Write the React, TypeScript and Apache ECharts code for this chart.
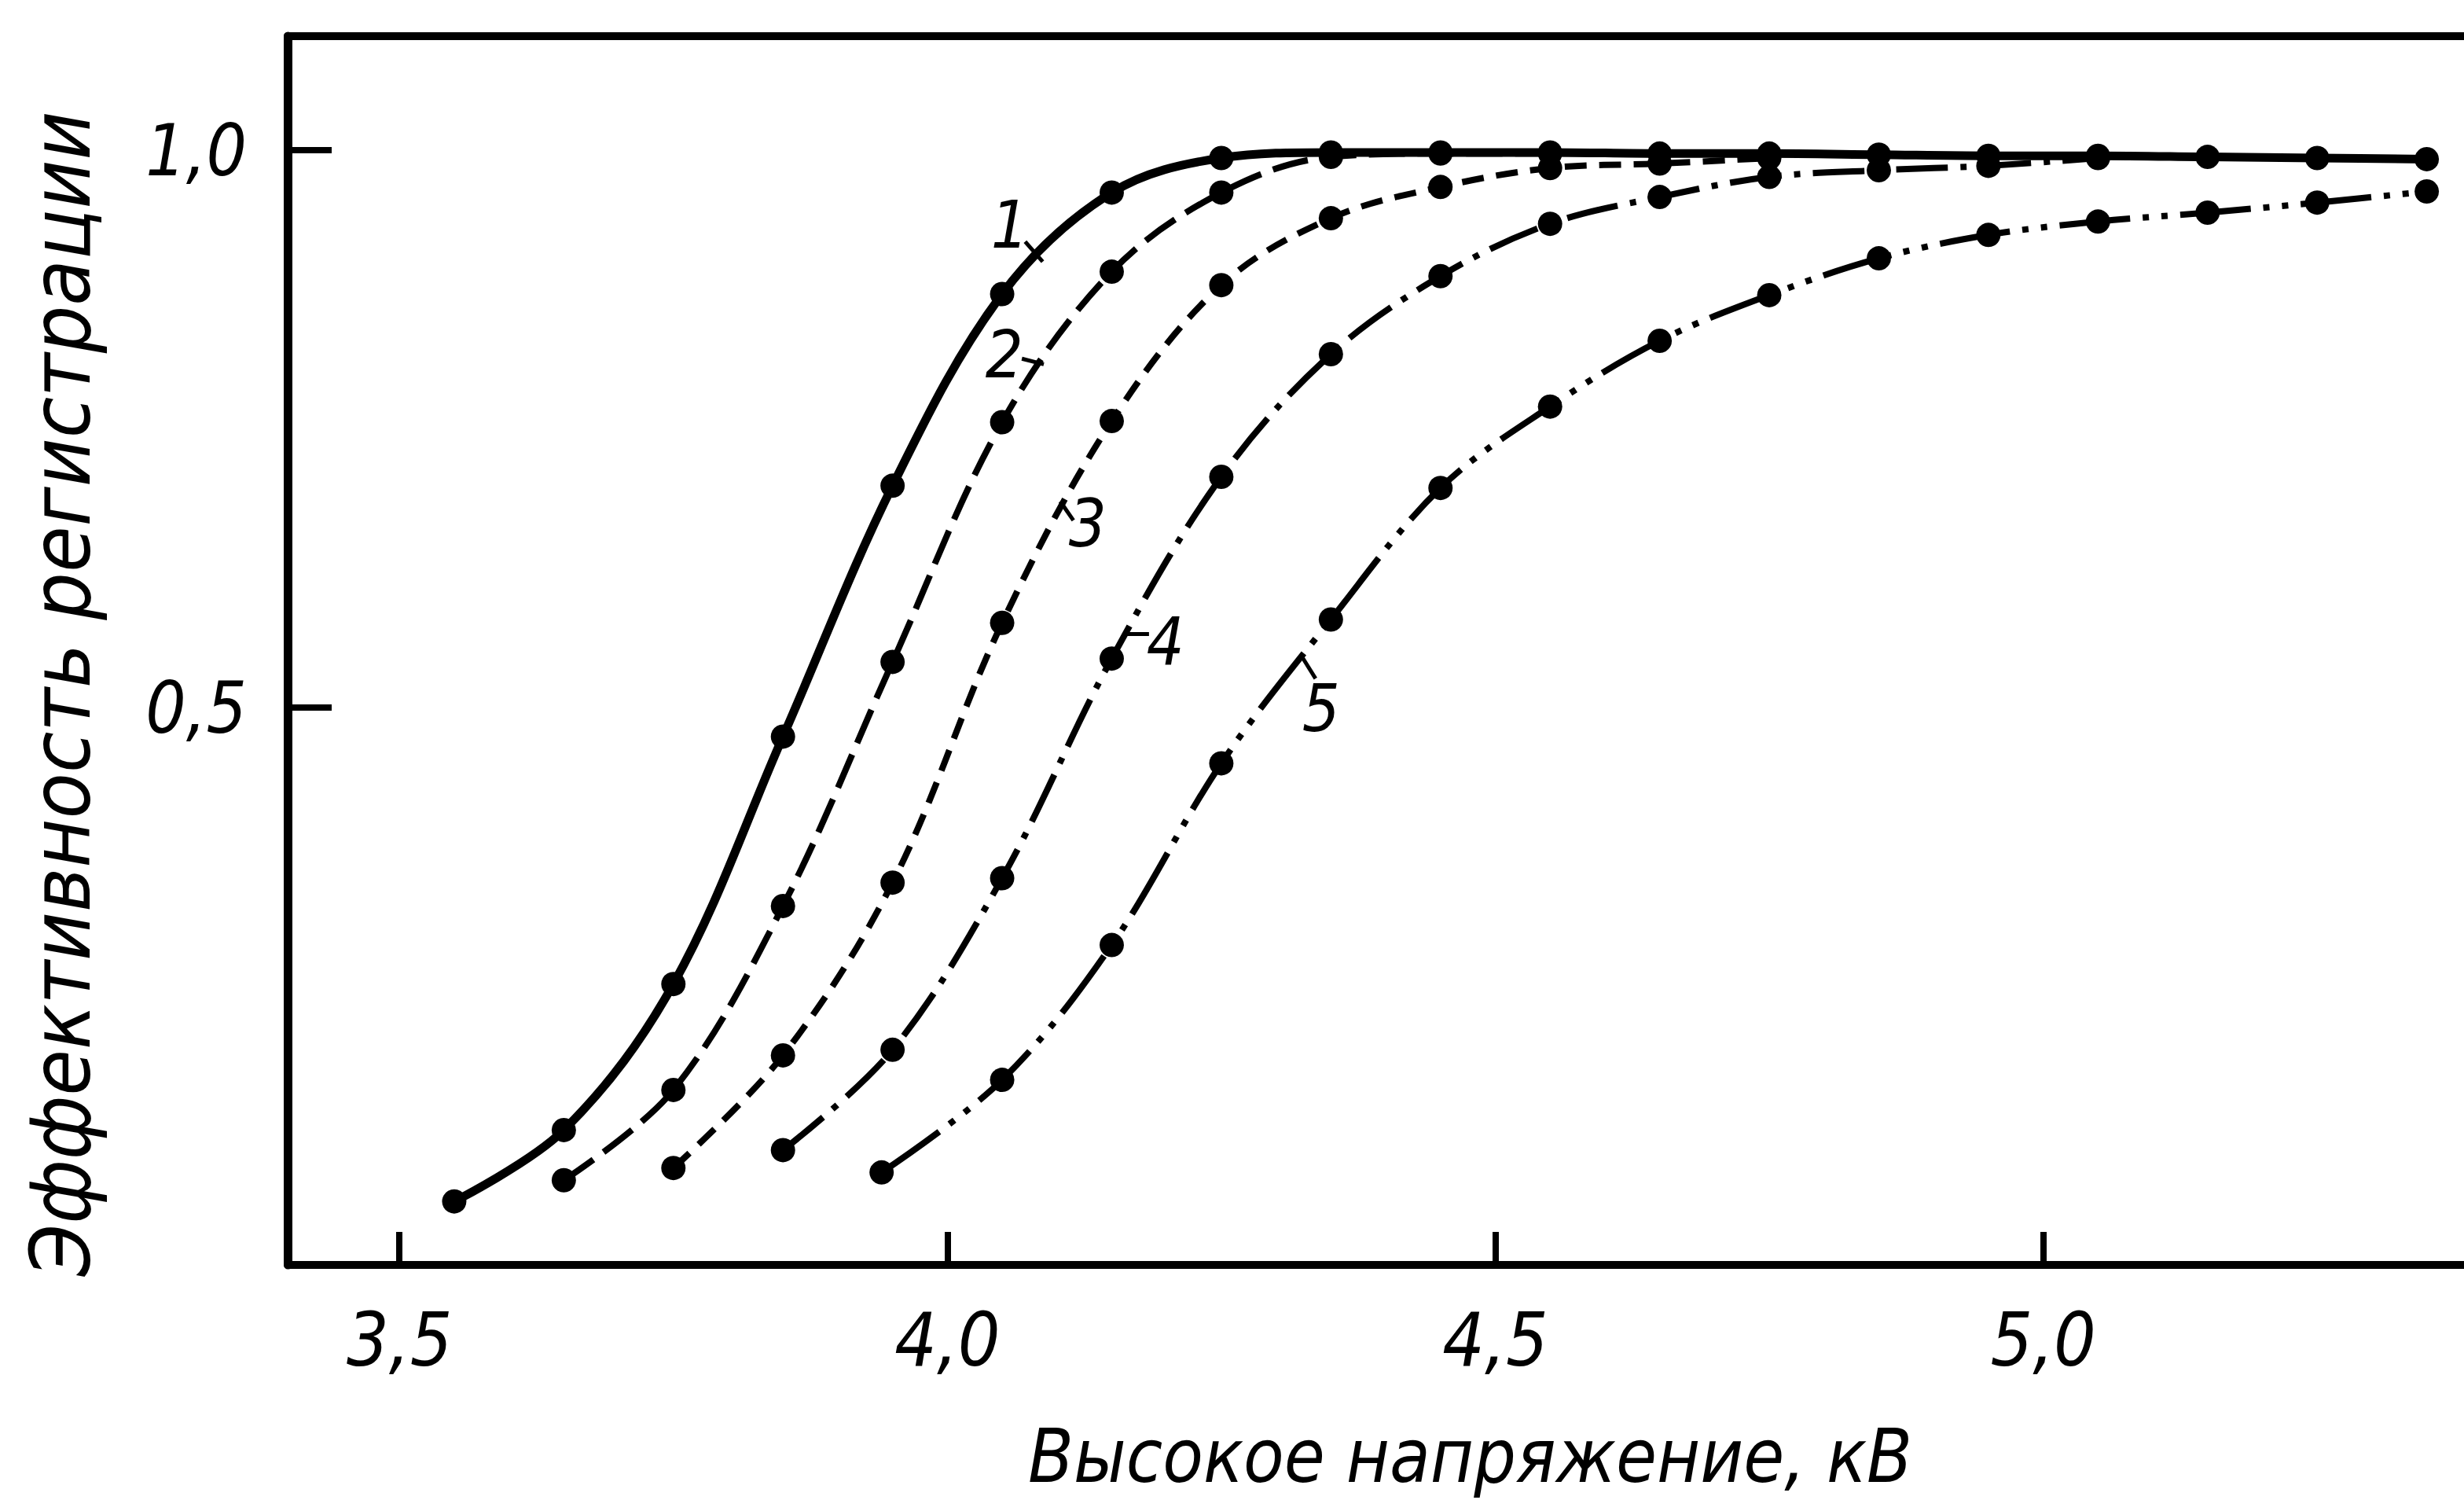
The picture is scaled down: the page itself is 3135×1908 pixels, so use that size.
import { useEffect, useRef } from "react";
import * as echarts from "echarts";

// ---- tick values ----
const xTickValues = [3.5, 4.0, 4.5, 5.0];
const yTickValues = [0.5, 1.0];

// ---- curve data (voltage, kV -> registration efficiency) ----
const voltage1 = [3.55, 3.65, 3.75, 3.85, 3.95, 4.05, 4.15, 4.25, 4.35, 4.45, 4.55, 4.65, 4.75, 4.85, 4.95, 5.05, 5.15, 5.25, 5.35];
const efficiency1 = [0.057, 0.121, 0.252, 0.474, 0.699, 0.871, 0.962, 0.993, 0.998, 0.998, 0.998, 0.997, 0.997, 0.996, 0.995, 0.995, 0.994, 0.993, 0.992];

const voltage2 = [3.65, 3.75, 3.85, 3.95, 4.05, 4.15, 4.25, 4.35, 4.45, 4.55];
const efficiency2 = [0.076, 0.157, 0.322, 0.541, 0.756, 0.891, 0.962, 0.994, 0.997, 0.997];

const voltage3 = [3.75, 3.85, 3.95, 4.05, 4.15, 4.25, 4.35, 4.45, 4.55, 4.65, 4.75];
const efficiency3 = [0.087, 0.188, 0.343, 0.576, 0.757, 0.879, 0.939, 0.967, 0.984, 0.988, 0.993];

const voltage4 = [3.85, 3.95, 4.05, 4.15, 4.25, 4.35, 4.45, 4.55, 4.65, 4.75, 4.85, 4.95, 5.05];
const efficiency4 = [0.103, 0.193, 0.347, 0.544, 0.707, 0.817, 0.887, 0.934, 0.958, 0.976, 0.982, 0.986, 0.993];

const voltage5 = [3.94, 4.05, 4.15, 4.25, 4.35, 4.45, 4.55, 4.65, 4.75, 4.85, 4.95, 5.05, 5.15, 5.25, 5.35];
const efficiency5 = [0.083, 0.166, 0.287, 0.45, 0.579, 0.697, 0.77, 0.829, 0.87, 0.903, 0.924, 0.936, 0.944, 0.953, 0.963];

const curveNames = ["1", "2", "3", "4", "5"];
// label anchor positions in data units (kV, efficiency)
const curveLabelPos = [
  [4.057, 0.933],
  [4.052, 0.817],
  [4.128, 0.665],
  [4.199, 0.559],
  [4.341, 0.499],
];
// short leader strokes from label to curve, data units
const leaderLines = [
  [[4.071, 0.918], [4.087, 0.9]],
  [[4.068, 0.813], [4.088, 0.808]],
  [[4.103, 0.685], [4.115, 0.668]],
  [[4.161, 0.566], [4.184, 0.566]],
  [[4.324, 0.545], [4.336, 0.526]],
];

const xTitle = "Высокое напряжение, кВ";
const yTitle = "Эффективность регистрации";

const FONT = "'DejaVu Sans Condensed', 'DejaVu Sans', sans-serif";

const curves = [
  { v: voltage1, e: efficiency1 },
  { v: voltage2, e: efficiency2 },
  { v: voltage3, e: efficiency3 },
  { v: voltage4, e: efficiency4 },
  { v: voltage5, e: efficiency5 },
];

const dashes: any[] = [
  "solid",
  [46, 16],
  [28, 16],
  [66, 16, 8, 16],
  [90, 16, 8, 16, 8, 16],
];

const fmt = (v: number) => v.toFixed(1).replace(".", ",");

export default function App() {
  const ref = useRef<HTMLDivElement>(null);

  useEffect(() => {
    if (!ref.current) return;
    const chart = echarts.init(ref.current, null, { renderer: "svg" });

    const xMin = 3.398;
    const xMax = 5.384;

    const series = curves.map((c, i) => ({
      type: "line",
      name: curveNames[i],
      xAxisIndex: 0,
      yAxisIndex: 0,
      data: c.v.map((x, j) => [x, c.e[j]]),
      smooth: 0.35,
      symbol: "circle",
      symbolSize: 31,
      showSymbol: true,
      itemStyle: { color: "#000" },
      lineStyle: { color: "#000", width: i === 0 ? 11 : 8, type: dashes[i] },
      z: 10 - i,
      markPoint: {
        silent: true,
        symbol: "circle",
        symbolSize: 1,
        itemStyle: { color: "rgba(0,0,0,0)" },
        label: {
          show: true,
          position: "inside",
          formatter: curveNames[i],
          fontSize: 84,
          fontStyle: "italic",
          fontFamily: FONT,
          color: "#000",
        },
        data: [{ coord: curveLabelPos[i] }],
      },
      markLine: {
        silent: true,
        symbol: ["none", "none"],
        label: { show: false },
        lineStyle: { color: "#000", width: 5, type: "solid" },
        data: [[{ coord: leaderLines[i][0] }, { coord: leaderLines[i][1] }]],
      },
    }));

    chart.setOption({
      animation: false,
      backgroundColor: "#fff",
      grid: { left: 366, right: 0, top: 46, bottom: 299, containLabel: false },
      xAxis: [
        {
          type: "value",
          position: "bottom",
          min: xMin,
          max: xMax,
          axisLine: { show: true, lineStyle: { color: "#000", width: 10 } },
          axisTick: {
            show: true,
            inside: true,
            length: 42,
            lineStyle: { color: "#000", width: 8 },
            customValues: xTickValues,
          },
          axisLabel: {
            customValues: xTickValues,
            formatter: fmt,
            margin: 48,
            fontSize: 94,
            fontStyle: "italic",
            fontFamily: FONT,
            color: "#000",
          },
          splitLine: { show: false },
          name: xTitle,
          nameLocation: "middle",
          nameGap: 196,
          nameTextStyle: {
            fontSize: 94,
            fontStyle: "italic",
            fontFamily: FONT,
            color: "#000",
            padding: [0, 0, 0, 240],
          },
        },
        {
          type: "value",
          position: "top",
          min: xMin,
          max: xMax,
          axisLine: { show: true, lineStyle: { color: "#000", width: 10 } },
          axisTick: { show: false },
          axisLabel: { show: false },
          splitLine: { show: false },
        },
      ],
      yAxis: {
        type: "value",
        min: 0,
        max: 1.1023,
        axisLine: { show: true, lineStyle: { color: "#000", width: 11 } },
        axisTick: {
          show: true,
          inside: true,
          length: 56,
          lineStyle: { color: "#000", width: 8 },
          customValues: yTickValues,
        },
        axisLabel: {
          customValues: yTickValues,
          formatter: fmt,
          margin: 52,
          fontSize: 90,
          fontStyle: "italic",
          fontFamily: FONT,
          color: "#000",
          padding: [44, 0, 0, 0],
        },
        splitLine: { show: false },
        name: yTitle,
        nameLocation: "middle",
        nameGap: 236,
        nameTextStyle: {
          fontSize: 106,
          fontStyle: "italic",
          fontFamily: FONT,
          color: "#000",
          padding: [0, 110, 0, 0],
        },
      },
      series,
    });

    return () => chart.dispose();
  }, []);

  return (
    <div
      ref={ref}
      style={{ position: "fixed", left: 0, top: 0, width: 3135, height: 1908, background: "#fff" }}
    />
  );
}
